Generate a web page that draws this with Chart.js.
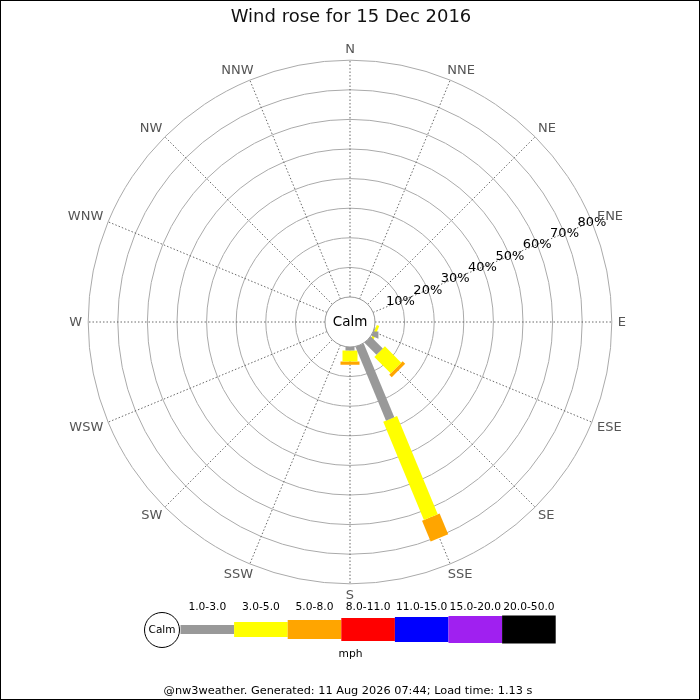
<!DOCTYPE html>
<html>
<head>
<meta charset="utf-8">
<script src="https://cdn.jsdelivr.net/npm/chart.js@4"></script>
<style>
  html, body { margin: 0; padding: 0; background: #fff; }
  canvas { display: block; }
</style>
</head>
<body>
<canvas id="rose" width="700" height="700"></canvas>
<script>
var directions = ['N', 'NNE', 'NE', 'ENE', 'E', 'ESE', 'SE', 'SSE', 'S', 'SSW', 'SW', 'WSW', 'W', 'WNW', 'NW', 'NNW'];
var speedBins = ['1.0-3.0', '3.0-5.0', '5.0-8.0', '8.0-11.0', '11.0-15.0', '15.0-20.0', '20.0-50.0'];
var binColors = ['#999999', '#ffff00', '#ffa500', '#ff0000', '#0000ff', '#a020f0', '#000000'];

// percentage of the day, per direction, one array per speed bin
var speed1to3   = [0, 0, 0, 0, 0, 0.3, 5.7, 27.0, 1.2, 0, 0, 0, 0, 0, 0, 0];
var speed3to5   = [0, 0, 0, 0, 0, 0.9, 7.8, 35.9, 3.7, 0, 0, 0, 0, 0, 0, 0];
var speed5to8   = [0, 0, 0, 0, 0, 0,   1.2,  7.6, 1.1, 0, 0, 0, 0, 0, 0, 0];
var speed8to11  = [0, 0, 0, 0, 0, 0, 0, 0, 0, 0, 0, 0, 0, 0, 0, 0];
var speed11to15 = [0, 0, 0, 0, 0, 0, 0, 0, 0, 0, 0, 0, 0, 0, 0, 0];
var speed15to20 = [0, 0, 0, 0, 0, 0, 0, 0, 0, 0, 0, 0, 0, 0, 0, 0];
var speed20to50 = [0, 0, 0, 0, 0, 0, 0, 0, 0, 0, 0, 0, 0, 0, 0, 0];

var ringTicks = [10, 20, 30, 40, 50, 60, 70, 80];

var series = [speed1to3, speed3to5, speed5to8, speed8to11, speed11to15, speed15to20, speed20to50];
var barWidths = [9, 15, 19, 23, 25, 27, 28];
var calmR = 8.45;            // radius of the calm circle, in % units
var FONT = '"DejaVu Sans", sans-serif';

function polar(r, d) {
  var a = d * Math.PI / 8;
  return { x: r * Math.sin(a), y: r * Math.cos(a) };
}

var datasets = [];
series.forEach(function (vals, b) {
  vals.forEach(function (v, d) {
    if (!v) return;
    var start = calmR;
    for (var k = 0; k < b; k++) start += series[k][d];
    datasets.push({
      label: speedBins[b] + ' ' + directions[d],
      data: [polar(start, d), polar(start + v, d)],
      showLine: true,
      borderColor: binColors[b],
      borderWidth: barWidths[b],
      borderCapStyle: 'butt',
      pointRadius: 0,
      clip: false
    });
  });
});

var roseGrid = {
  id: 'roseGrid',
  beforeDatasetsDraw: function (chart) {
    var c = chart.ctx, sx = chart.scales.x, sy = chart.scales.y;
    var cx = sx.getPixelForValue(0), cy = sy.getPixelForValue(0);
    var u = sx.getPixelForValue(1) - cx;
    var outer = (calmR + ringTicks[ringTicks.length - 1]) * u;
    c.save();
    c.strokeStyle = '#aaaaaa';
    c.lineWidth = 1;
    ringTicks.forEach(function (t) {
      c.beginPath();
      c.arc(cx, cy, (calmR + t) * u, 0, 2 * Math.PI);
      c.stroke();
    });
    c.strokeStyle = '#444444';
    c.lineWidth = 0.8;
    c.setLineDash([1.5, 2]);
    directions.forEach(function (name, d) {
      var a = d * Math.PI / 8;
      c.beginPath();
      c.moveTo(cx + calmR * u * Math.sin(a), cy - calmR * u * Math.cos(a));
      c.lineTo(cx + outer * Math.sin(a), cy - outer * Math.cos(a));
      c.stroke();
    });
    c.restore();
  },
  afterDatasetsDraw: function (chart) {
    var c = chart.ctx, sx = chart.scales.x, sy = chart.scales.y;
    var cx = sx.getPixelForValue(0), cy = sy.getPixelForValue(0);
    var u = sx.getPixelForValue(1) - cx;
    var outer = (calmR + ringTicks[ringTicks.length - 1]) * u;
    c.save();
    // calm circle
    c.beginPath();
    c.arc(cx, cy, calmR * u, 0, 2 * Math.PI);
    c.fillStyle = '#ffffff';
    c.fill();
    c.strokeStyle = '#999999';
    c.lineWidth = 1;
    c.stroke();
    c.fillStyle = '#000';
    c.font = '13.5px ' + FONT;
    c.textAlign = 'center';
    c.textBaseline = 'middle';
    c.fillText('Calm', cx, cy + 0.5);
    // ring labels along ENE
    c.font = '13px ' + FONT;
    var la = 3 * Math.PI / 8;
    ringTicks.forEach(function (t) {
      var r = (calmR + t) * u;
      c.fillText(t + '%', cx + r * Math.sin(la), cy - r * Math.cos(la) + 0.5);
    });
    // compass labels
    c.fillStyle = '#555555';
    directions.forEach(function (name, d) {
      var a = d * Math.PI / 8;
      var sa = Math.sin(a), ca = Math.cos(a);
      var w = c.measureText(name).width;
      var r = outer + 6;
      var x = cx + r * sa + Math.sign(sa) * Math.sqrt(Math.abs(sa)) * w / 2;
      var y = cy - r * ca - Math.sign(ca) * Math.sqrt(Math.abs(ca)) * 5;
      if (Math.abs(sa) < 1e-9) x = cx;
      if (Math.abs(ca) < 1e-9) y = cy;
      c.fillText(name, x, y + 0.5);
    });
    c.restore();
  },
  afterDraw: function (chart) {
    var c = chart.ctx;
    c.save();
    c.fillStyle = '#111';
    c.textAlign = 'center';
    c.textBaseline = 'middle';
    c.font = '18px ' + FONT;
    c.fillText('Wind rose for 15 Dec 2016', 351, 17.5);

    // speed legend
    var x0 = 180.5, segW = 53.6, ly = 629.5;
    c.beginPath();
    c.arc(162, 630, 17.5, 0, 2 * Math.PI);
    c.fillStyle = '#fff';
    c.fill();
    c.strokeStyle = '#000';
    c.lineWidth = 1;
    c.stroke();
    c.fillStyle = '#000';
    c.font = '10.5px ' + FONT;
    c.fillText('Calm', 162, 630);
    c.font = '10.7px ' + FONT;
    speedBins.forEach(function (lab, b) {
      var x = x0 + b * segW;
      c.fillStyle = binColors[b];
      c.fillRect(x, ly - barWidths[b] / 2, segW, barWidths[b]);
      c.fillStyle = '#000';
      c.fillText(lab, x + segW / 2, 607);
    });
    c.fillText('mph', 350.5, 654);

    c.font = '11.3px ' + FONT;
    c.fillText('@nw3weather. Generated: 11 Aug 2026 07:44; Load time: 1.13 s', 348, 691);

    c.strokeStyle = '#000';
    c.lineWidth = 1;
    c.strokeRect(0.5, 0.5, chart.width - 1, chart.height - 1);
    c.restore();
  }
};

var pxPerUnit = 2.96;
new Chart(document.getElementById('rose'), {
  type: 'scatter',
  data: { datasets: datasets },
  options: {
    responsive: false,
    animation: false,
    layout: { padding: 0 },
    plugins: { legend: { display: false }, tooltip: { enabled: false }, title: { display: false } },
    scales: {
      x: { display: false, min: -350 / pxPerUnit, max: 350 / pxPerUnit },
      y: { display: false, min: -378 / pxPerUnit, max: 322 / pxPerUnit }
    }
  },
  plugins: [roseGrid]
});
</script>
</body>
</html>
